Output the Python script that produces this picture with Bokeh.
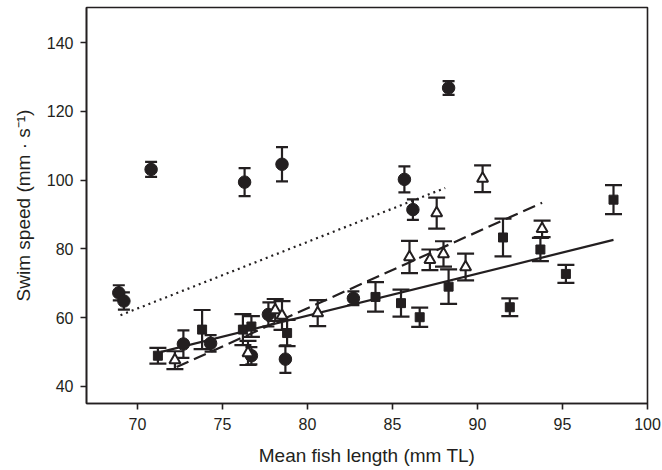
from bokeh.plotting import figure
from bokeh.models import ColumnDataSource, Whisker, TeeHead, Range1d, FixedTicker
from bokeh.embed import file_html
from bokeh.resources import INLINE

# Circles (filled)
circle_x = [68.9, 69.2, 70.8, 72.7, 74.3, 76.3, 76.7, 77.7, 78.5, 78.7, 82.7, 85.7, 86.2, 88.3]
circle_y = [67.2, 64.8, 103.1, 52.3, 52.5, 99.4, 48.9, 60.9, 104.6, 47.9, 65.6, 100.2, 91.4, 126.8]
circle_err = [2.2, 2.5, 2.2, 4.0, 2.4, 4.1, 2.5, 3.5, 5.0, 4.0, 2.0, 3.8, 3.0, 2.0]

# Triangles (open)
tri_x = [72.2, 76.5, 78.1, 78.5, 80.6, 86.0, 87.2, 87.6, 88.0, 89.3, 90.3, 93.8]
tri_y = [47.6, 49.7, 62.2, 60.6, 61.3, 77.6, 76.8, 90.4, 78.5, 74.7, 100.4, 85.8]
tri_err = [2.6, 3.5, 3.2, 4.2, 3.8, 4.7, 3.0, 4.5, 3.7, 3.9, 3.9, 2.4]

# Squares (filled)
sq_x = [71.2, 73.8, 76.2, 76.7, 78.8, 84.0, 85.5, 86.6, 88.3, 91.5, 91.9, 93.7, 95.2, 98.0]
sq_y = [48.9, 56.5, 56.5, 57.4, 55.5, 66.0, 64.2, 60.1, 69.0, 83.3, 63.0, 79.8, 72.7, 94.3]
sq_err = [2.3, 5.7, 4.5, 3.0, 3.8, 4.3, 3.9, 2.8, 5.0, 5.5, 2.6, 3.4, 2.6, 4.2]

# Regression line end points
fit_circle_x = [69.0, 88.1]
fit_circle_y = [60.7, 97.7]
fit_tri_x = [72.3, 93.8]
fit_tri_y = [45.6, 93.4]
fit_sq_x = [71.4, 98.0]
fit_sq_y = [50.0, 82.6]

x_ticks = [70, 75, 80, 85, 90, 95, 100]
y_ticks = [40, 60, 80, 100, 120, 140]

INK = "#231f20"
FONT = "Liberation Sans"

p = figure(width=662, height=470, output_backend="svg", toolbar_location=None,
           x_range=Range1d(67.0, 100.0), y_range=Range1d(35.0, 150.2),
           min_border_left=86, min_border_right=15, min_border_top=7, min_border_bottom=67)
p.background_fill_color = "white"
p.border_fill_color = "white"
p.outline_line_color = INK
p.outline_line_width = 1.6
p.xgrid.visible = False
p.ygrid.visible = False

for ax in (p.xaxis[0], p.yaxis[0]):
    ax.axis_line_color = INK
    ax.axis_line_width = 1.6
    ax.major_tick_line_color = INK
    ax.major_tick_line_width = 1.6
    ax.major_tick_out = 6
    ax.major_tick_in = 0
    ax.minor_tick_line_color = None
    ax.major_label_text_font = FONT
    ax.major_label_text_font_size = "16px"
    ax.major_label_text_color = INK
    ax.axis_label_text_font = FONT
    ax.axis_label_text_font_size = "19px"
    ax.axis_label_text_font_style = "normal"
    ax.axis_label_text_color = INK

p.xaxis.ticker = FixedTicker(ticks=x_ticks)
p.yaxis.ticker = FixedTicker(ticks=y_ticks)
p.xaxis.axis_label = "Mean fish length (mm TL)"
p.yaxis.axis_label = "Swim speed (mm \u00b7 s\u207b\u00b9)"
p.xaxis.major_label_standoff = 8
p.yaxis.major_label_standoff = 7
p.xaxis.axis_label_standoff = 12
p.yaxis.axis_label_standoff = 10

# Regression lines
p.line(fit_circle_x, fit_circle_y, line_color=INK, line_width=2.2, line_dash="2 4")
p.line(fit_tri_x, fit_tri_y, line_color=INK, line_width=2.2, line_dash="13 6")
p.line(fit_sq_x, fit_sq_y, line_color=INK, line_width=2.2)

def add_group(xs, ys, errs, cap):
    src = ColumnDataSource(dict(x=xs, y=ys,
                                lo=[y - e for y, e in zip(ys, errs)],
                                hi=[y + e for y, e in zip(ys, errs)]))
    w = Whisker(source=src, base="x", lower="lo", upper="hi", dimension="height",
                line_color=INK, line_width=2.2,
                lower_head=TeeHead(size=cap, line_color=INK, line_width=2.2),
                upper_head=TeeHead(size=cap, line_color=INK, line_width=2.2))
    p.add_layout(w)
    return src

src_c = add_group(circle_x, circle_y, circle_err, 12)
src_t = add_group(tri_x, tri_y, tri_err, 17)
src_s = add_group(sq_x, sq_y, sq_err, 17)

p.scatter("x", "y", source=src_c, marker="circle", size=12.5,
          fill_color=INK, line_color=INK, line_width=1)
p.scatter("x", "y", source=src_t, marker="triangle", size=11,
          fill_color="white", line_color=INK, line_width=2)
p.scatter("x", "y", source=src_s, marker="square", size=9,
          fill_color=INK, line_color=INK, line_width=1)

open("out.html", "w").write(file_html(p, INLINE))
